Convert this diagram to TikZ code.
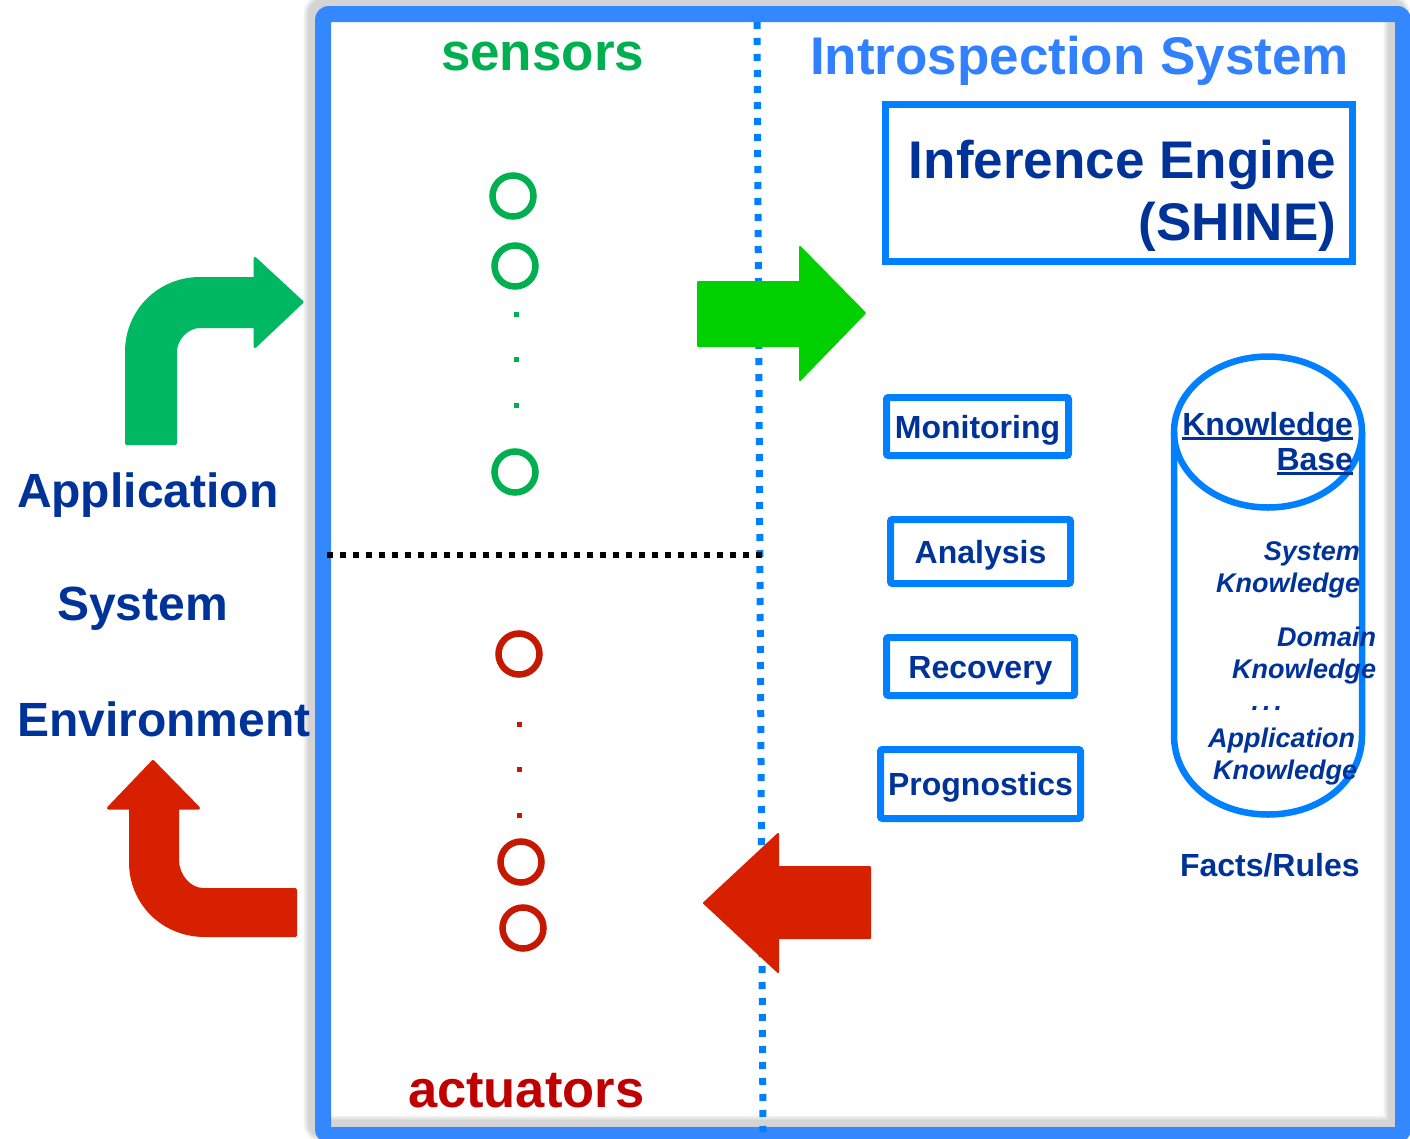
\documentclass[tikz,border=0pt]{standalone}
\usepackage{fontspec}
\setmainfont{Liberation Sans}
\definecolor{framebl}{RGB}{51,136,255}
\definecolor{linebl}{RGB}{0,128,255}
\definecolor{navy}{RGB}{0,51,153}
\definecolor{titlebl}{RGB}{48,128,255}
\definecolor{sensgreen}{RGB}{0,176,80}
\definecolor{actred}{RGB}{192,0,0}
\definecolor{ringred}{RGB}{196,24,0}
\definecolor{bentgreen}{RGB}{0,184,98}
\definecolor{flowgreen}{RGB}{0,208,0}
\definecolor{flowred}{RGB}{214,32,0}
\newcommand\fsz[1]{\fontsize{#1}{#1}\selectfont}
% underlined word with a rule matching the text weight
\newcommand\kbline[1]{\setbox0\hbox{#1}\rlap{\rule[-5pt]{\wd0}{2.6pt}}\box0}
\begin{document}
\begin{tikzpicture}[x=1pt,y=-1pt,
  every node/.style={inner sep=0pt, outer sep=0pt},
  module/.style={draw=linebl, line width=7pt, rounded corners=2pt,
    font=\fsz{32}\bfseries, text=navy, text height=27pt, text depth=4pt},
  sidelabel/.style={anchor=base west, font=\fsz{48}\bfseries, text=navy},
  kbitem/.style={anchor=base east, font=\fsz{27}\bfseries\itshape, text=navy},
  greenring/.style={circle, draw=sensgreen, line width=6.5pt, minimum size=41pt},
  redring/.style={circle, draw=ringred, line width=6.5pt, minimum size=41pt},
  greendot/.style={fill=sensgreen, minimum size=5pt},
  reddot/.style={fill=ringred, minimum size=5pt},
  bentarrow/.style={line width=3pt, line join=round},
  flowarrow/.style={line width=2pt, line join=round}]

\useasboundingbox (0,0) rectangle (1410,1138);
\fill[white] (0,0) rectangle (1410,1138);

% soft shadow of the outer frame
\begin{scope}[shift={(-6,-6)}]
  \foreach \w in {2,5,8,11}
    \draw[black, opacity=0.045, line width=16pt+\w pt, rounded corners=6pt]
      (323,14) rectangle (1403,1135);
\end{scope}

% outer frame of the introspection system
\draw[framebl, line width=16pt, rounded corners=6pt] (323,14) rectangle (1403,1135);

% dividing lines
\coordinate (vtop) at (757,22);
\coordinate (vbot) at (763,1132);
\draw[linebl, line width=7pt, dash pattern=on 7pt off 9pt] (vtop) -- (vbot);
\coordinate (hleft) at (327,555);
\coordinate (hright) at (762,555);
\draw[black, line width=6pt, dash pattern=on 6pt off 7pt] (hleft) -- (hright);

% sensors
\node[anchor=base west, font=\fsz{53}\bfseries, text=sensgreen] (sens) at (441,70) {sensors};
\node[greenring] (s1) at (513,196) {};
\node[greenring] (s2) at (515,266) {};
\node[greendot] (sd1) at (516,314) {};
\node[greendot] (sd2) at (516,359) {};
\node[greendot] (sd3) at (516,405) {};
\node[greenring] (s3) at (515,472) {};

% actuators
\node[redring] (a1) at (519,654) {};
\node[reddot] (ad1) at (519,724) {};
\node[reddot] (ad2) at (519,769) {};
\node[reddot] (ad3) at (519,815) {};
\node[redring] (a2) at (521,862) {};
\node[redring] (a3) at (523,928) {};
\node[anchor=base west, font=\fsz{52.5}\bfseries, text=actred] (act) at (408,1107) {actuators};

% application / system / environment
\node[sidelabel] (app) at (17,507) {Application};
\node[sidelabel] (sys) at (57,620) {System};
\node[sidelabel] (env) at (17,736) {Environment};

% bent arrows between environment and system
\filldraw[bentgreen, bentarrow]
  (126.5,443.5) -- (126.5,352)
  .. controls (126.5,310.6) and (159.1,278.5) .. (200,278.5)
  -- (255,278.5) -- (255,258.5) -- (302,302) -- (255,346.5) -- (255,326.5)
  -- (200,326.5) .. controls (187.3,326.5) and (175.5,338.7) .. (175.5,352)
  -- (175.5,443.5) -- cycle;
\filldraw[flowred, bentarrow]
  (153,761.5) -- (198.5,808) -- (177.5,808) -- (177.5,860)
  .. controls (177.5,875.5) and (189.7,889.5) .. (203,889.5)
  -- (295.5,889.5) -- (295.5,935.5) -- (205,935.5)
  .. controls (163,935.5) and (130.5,903.4) .. (130.5,862)
  -- (130.5,808) -- (108.5,808) -- cycle;

% flow arrows into and out of the introspection system
\filldraw[flowgreen, flowarrow]
  (698,282) -- (800,282) -- (800,247) -- (865,313) -- (800,380)
  -- (800,346) -- (698,346) -- cycle;
\filldraw[flowred, flowarrow]
  (870,867) -- (778,867) -- (778,834) -- (704,903) -- (778,972)
  -- (778,938) -- (870,938) -- cycle;

% introspection system
\node[anchor=base west, font=\fsz{53}\bfseries, text=titlebl] (title) at (810,74) {Introspection System};
\node[draw=linebl, line width=7pt, minimum width=467pt, minimum height=157pt] (ie) at (1119,183) {};
\node[anchor=base east, font=\fsz{53}\bfseries, text=navy] (ie1) at (1336,178) {Inference Engine};
\node[anchor=base east, font=\fsz{53}\bfseries, text=navy] (ie2) at (1336,240) {(SHINE)};

\node[module, minimum width=182pt, minimum height=58pt] (mon) at (977.5,426.5) {Monitoring};
\node[module, minimum width=180pt, minimum height=64pt] (ana) at (980.5,551.5) {Analysis};
\node[module, minimum width=188pt, minimum height=58pt] (rec) at (980.5,666.5) {Recovery};
\node[module, minimum width=200pt, minimum height=69pt] (pro) at (980.5,784) {Prognostics};

% knowledge base cylinder
\draw[linebl, line width=6.5pt]
  (1174,432) -- (1174,735) .. controls (1174,782) and (1216,814.5) .. (1268,814.5)
  .. controls (1320,814.5) and (1362,782) .. (1362,735) -- (1362,432);
\draw[linebl, line width=6.5pt] (1268,432) ellipse [x radius=94pt, y radius=75.5pt];
\node[anchor=base east, font=\fsz{32}\bfseries, text=navy] (kb1) at (1353,435) {\kbline{Knowledge}};
\node[anchor=base east, font=\fsz{32}\bfseries, text=navy] (kb2) at (1353,470) {\kbline{Base}};

\node[kbitem] (sk1) at (1360,560) {System};
\node[kbitem] (sk2) at (1360,592) {Knowledge};
\node[kbitem] (dk1) at (1376,646) {Domain};
\node[kbitem] (dk2) at (1376,678) {Knowledge};
\node[kbitem] (dots) at (1282,710) {.\kern4pt.\kern4pt.};
\node[kbitem] (ak1) at (1355,747) {Application};
\node[kbitem] (ak2) at (1357,779) {Knowledge};

\node[anchor=base west, font=\fsz{32}\bfseries, text=navy] (facts) at (1180,876) {Facts/Rules};
\end{tikzpicture}
\end{document}
